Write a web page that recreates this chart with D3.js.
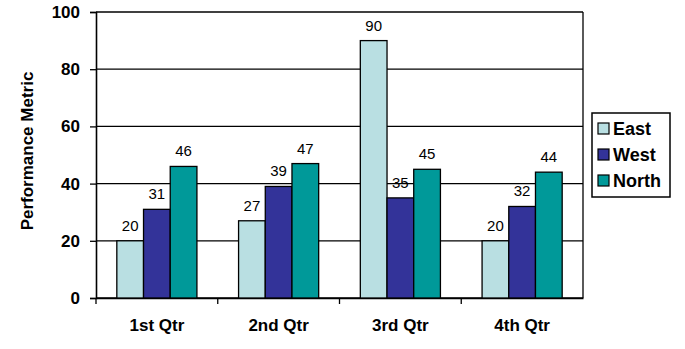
<!DOCTYPE html>
<html>
<head>
<meta charset="utf-8">
<script src="https://cdn.jsdelivr.net/npm/d3@7"></script>
<style>
  html, body { margin: 0; padding: 0; background: #fff; }
  svg { display: block; font-family: "Liberation Sans", Arial, sans-serif; }
</style>
</head>
<body>
<svg id="chart" width="685" height="349"></svg>
<script>
// Quarterly performance by region
const quarters = ["1st Qtr", "2nd Qtr", "3rd Qtr", "4th Qtr"];
const seriesNames = ["East", "West", "North"];
const eastValues = [20, 27, 90, 20];
const westValues = [31, 39, 35, 32];
const northValues = [46, 47, 45, 44];
const yTicks = [0, 20, 40, 60, 80, 100];
const seriesColors = ["#b9dfe2", "#333399", "#009999"];

const seriesValues = [eastValues, westValues, northValues];

const svg = d3.select("#chart");
const plot = { left: 96, right: 583, top: 12, bottom: 298 };

const x = d3.scaleBand().domain(quarters).range([plot.left, plot.right]);
const x1 = d3.scaleBand().domain(seriesNames)
  .range([0, x.bandwidth()]).paddingOuter(0.78).paddingInner(0);
const y = d3.scaleLinear().domain([0, 100]).range([plot.bottom, plot.top]);

// horizontal gridlines
svg.append("g")
  .selectAll("line")
  .data(yTicks)
  .join("line")
  .attr("x1", plot.left).attr("x2", plot.right)
  .attr("y1", d => y(d)).attr("y2", d => y(d))
  .attr("stroke", "#000").attr("stroke-width", 1.3);

// plot frame (right side)
svg.append("line")
  .attr("x1", plot.right).attr("x2", plot.right)
  .attr("y1", plot.top).attr("y2", plot.bottom)
  .attr("stroke", "#000").attr("stroke-width", 1.3);

// y axis
const yAxis = svg.append("g")
  .attr("transform", `translate(${plot.left},0)`)
  .call(d3.axisLeft(y).tickValues(yTicks).tickSize(6).tickPadding(10));
yAxis.select(".domain").attr("stroke", "#000").attr("stroke-width", 1.6);
yAxis.selectAll(".tick line").attr("stroke", "#000").attr("stroke-width", 1.3);
yAxis.selectAll(".tick text")
  .attr("font-family", "Liberation Sans, Arial, sans-serif")
  .attr("font-size", 17).attr("font-weight", "bold").attr("fill", "#000");

// x axis
const xAxis = svg.append("g")
  .attr("transform", `translate(0,${plot.bottom})`)
  .call(d3.axisBottom(x).tickSize(0).tickPadding(21));
xAxis.select(".domain").attr("stroke", "#000").attr("stroke-width", 1.6);
xAxis.selectAll(".tick text")
  .attr("font-family", "Liberation Sans, Arial, sans-serif")
  .attr("font-size", 17).attr("font-weight", "bold").attr("fill", "#000");
// category boundary tick marks
xAxis.append("g")
  .selectAll("line")
  .data(quarters)
  .join("line")
  .attr("x1", d => x(d)).attr("x2", d => x(d))
  .attr("y1", 0).attr("y2", 6)
  .attr("stroke", "#000").attr("stroke-width", 1.3);

// bars
const groups = svg.append("g")
  .selectAll("g")
  .data(quarters)
  .join("g")
  .attr("transform", d => `translate(${x(d)},0)`);

const cells = groups.selectAll("g")
  .data((q, qi) => seriesNames.map((s, si) => ({ s, si, v: seriesValues[si][qi] })))
  .join("g");

cells.append("rect")
  .attr("x", d => x1(d.s))
  .attr("width", x1.bandwidth())
  .attr("y", d => y(d.v))
  .attr("height", d => y(0) - y(d.v))
  .attr("fill", d => seriesColors[d.si])
  .attr("stroke", "#000").attr("stroke-width", 1.3);

cells.append("text")
  .attr("x", d => x1(d.s) + x1.bandwidth() / 2)
  .attr("y", d => y(d.v) - 10)
  .attr("text-anchor", "middle")
  .attr("font-size", 15)
  .attr("fill", "#000")
  .text(d => d.v);

// y axis title
svg.append("text")
  .attr("transform", `translate(33,151) rotate(-90)`)
  .attr("text-anchor", "middle")
  .attr("font-size", 17).attr("font-weight", "bold")
  .text("Performance Metric");

// legend
const legend = svg.append("g");
legend.append("rect")
  .attr("x", 592).attr("y", 113).attr("width", 78).attr("height", 84)
  .attr("fill", "#fff").attr("stroke", "#000").attr("stroke-width", 1.5);

const items = legend.selectAll("g")
  .data(seriesNames)
  .join("g")
  .attr("transform", (d, i) => `translate(598,${123 + i * 26})`);
items.append("rect")
  .attr("width", 11).attr("height", 11)
  .attr("fill", (d, i) => seriesColors[i])
  .attr("stroke", "#000").attr("stroke-width", 1.2);
items.append("text")
  .attr("x", 15).attr("y", 12)
  .attr("font-size", 18).attr("font-weight", "bold")
  .text(d => d);
</script>
</body>
</html>
